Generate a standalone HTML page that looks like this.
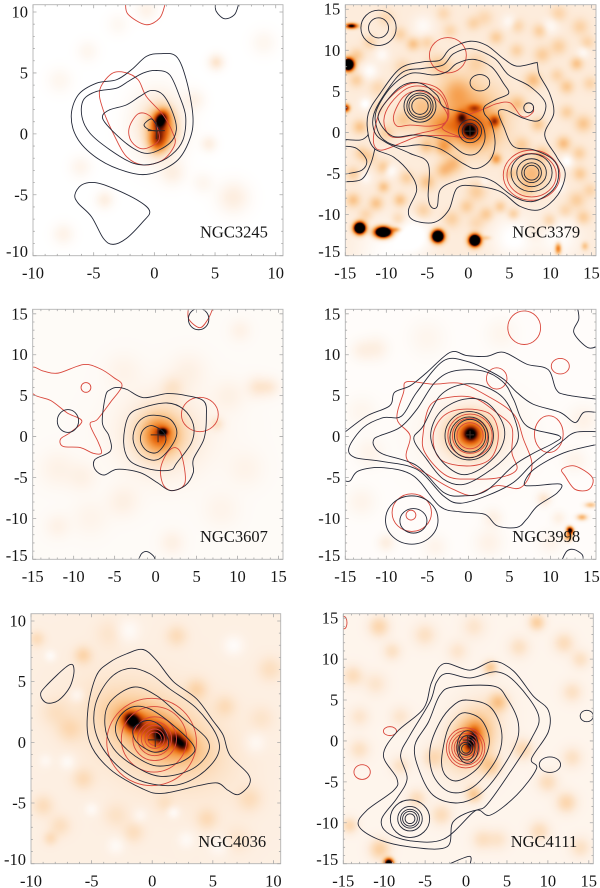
<!DOCTYPE html>
<html lang="en">
<head>
<meta charset="utf-8">
<title>NGC contour maps</title>
<style>
html,body{margin:0;padding:0;background:#fff;}
#figure{position:relative;width:600px;height:888px;overflow:hidden;background:#fff;}
#figure canvas{position:absolute;display:block;}
#figure svg{position:absolute;left:0;top:0;filter:blur(0.25px);}
text{font-family:"Liberation Serif",serif;fill:#161616;}
</style>
</head>
<body>
<div id="figure">
<svg id="overlay" width="600" height="888" viewBox="0 0 600 888"></svg>
</div>
<script>
/* ---------- tick labels ---------- */
const ticks10 = [-10,-5,0,5,10];
const ticks15 = [-15,-10,-5,0,5,10,15];

/* ---------- NGC3245 ---------- */
const n3245Heat = [[0.55,1.25,0.38,0.5,-30,0.62],[0.65,0.5,0.7,1,0,0.46],[0.25,-0.6,0.5,0.65,0,0.42],[0.3,0.7,1.4,1.8,0,0.2]];
const n3245Noise = [[5.1,5.9,0.45,0.14],[6.5,-5.2,0.9,0.1],[4.5,-0.8,0.45,0.09],[-4.1,-5.4,0.5,0.09],[-7.5,-8.2,0.6,0.07],[-6.1,-2.7,0.6,0.06],[-0.65,10.2,0.6,0.07],[-7.8,4.4,0.7,0.05],[1.5,-3.2,0.7,0.08],[-5.5,6.8,0.6,0.05],[-3,9,0.6,0.04],[3.3,2.8,0.6,0.07],[9,7.5,0.7,0.05],[4,-4,0.6,0.05]];
const n3245Black = [
 [[0.44,6.58],[1.8,6.36],[2.63,4.44],[3.18,1.42],[2.9,-0.49],[1.8,-2.27],[-0.38,-3.29],[-2.3,-3.1],[-4.5,-2.14],[-6.27,-0.49],[-6.85,1.42],[-6.27,3.2],[-4.77,4.16],[-3.12,4.44],[-1.89,5.26],[-0.66,6.36]],
 [[0.16,5.2],[1.26,4.85],[2.08,3.07],[2.58,1.42],[2.36,-0.49],[1.4,-1.73],[-0.11,-2.47],[-1.75,-2.41],[-3.67,-1.3],[-5.3,0.05],[-5.97,1.42],[-5.84,2.79],[-4.77,3.48],[-3.12,3.75],[-2.16,4.3],[-0.93,4.99]],
 [[-0.25,3.56],[0.71,3.2],[1.53,1.7],[1.81,0.33],[1.26,-0.77],[-0.38,-1.59],[-1.75,-1.18],[-3.4,0.19],[-4.27,1.29],[-3.8,1.92],[-2.3,2.38],[-1.2,3.07]],
 [[-0.85,0.74],[-0.25,1.23],[0.16,0.74],[0.44,0.27],[-0.38,0.33]],
 [[-6.55,-5],[-6,-4.2],[-4.9,-4],[-3.4,-4.47],[-1.2,-5.56],[-0.38,-6.38],[-0.93,-7.2],[-2.3,-8.58],[-3.4,-9.07],[-4.2,-8.58],[-5.18,-6.8],[-6.27,-5.7]]
];
const n3245BlackOpen = [[[5.04,10.7],[5.1,10.05],[5.78,9.45],[6.6,9.78],[6.96,10.7]]];
const n3245Red = [
 [[-3.53,4.93],[-2.44,5.04],[-1.34,4.44],[-0.66,3.07],[0.71,1.56],[1.53,0.05],[1.67,-0.9],[0.71,-2.14],[-0.93,-2.55],[-2.3,-1.86],[-3.26,-0.22],[-4.22,1.97],[-4.5,3.6]],
 [[-2.08,0.47],[-1.34,1.64],[-0.38,1.48],[0.3,0.33],[0.3,-0.63],[-0.93,-1.23],[-1.89,-0.63]]
];
const n3245RedOpen = [[[-2.38,10.7],[-2.16,9.8],[-0.71,8.96],[0.44,9.5],[0.9,10.7]]];

/* ---------- NGC3379 ---------- */
const n3379Heat = [[0.2,0.2,0.5,0.5,0,0.55],[0.2,0.2,1.4,1.4,0,0.32],[-0.8,1.9,0.45,0.5,0,0.38],[0.8,3,0.6,0.35,0,0.34],[3.25,1.4,0.45,0.5,0,0.48],[-5.9,3.2,1.2,1.2,0,0.14],[-0.5,3,2.8,2.4,0,0.24],[-1.4,5.15,1.1,1.2,0,0.14],[2,0.5,1.8,2,0,0.18],[-3,0.8,1.8,1.1,0,0.27],[7.7,-5,1.3,1.3,0,0.22],
 [-13.2,-11.6,0.45,0.45,0,2.2],[-10.35,-12.1,0.65,0.42,0,2.2],[-3.7,-12.6,0.47,0.47,0,2.2],[0.8,-13.1,0.45,0.45,0,2.2],[-14.6,8.3,0.45,0.47,0,2],[-14.2,13,0.5,0.22,0,0.95],[-14.9,3,0.32,0.32,0,0.8],[10.95,-14.1,0.27,0.47,0,0.5],[-8.8,-11.8,0.4,0.22,0,0.3],[2.2,-12.8,0.4,0.2,0,0.15],[14.2,-13.8,0.3,0.35,0,0.2]];
const n3379Noise = [[-6.7,10.8,0.55,0.18],[-13.6,9.4,0.6,0.15],[-8.3,12,0.6,0.12],[3.4,11.6,0.6,0.14],[8.7,12.4,0.6,0.14],[13.2,8.4,0.55,0.18],[12,5.6,0.6,0.16],[14,1.1,0.7,0.17],[11.6,-1.3,0.6,0.2],[13.6,-5,0.6,0.15],[13.2,-8.2,0.7,0.14],[7.9,6.4,0.7,0.2],[-11.2,-8.6,0.6,0.18],[-14,-8.2,0.6,0.18],[-8.3,-8.2,0.55,0.18],[-10.3,-6.6,0.5,0.18],[-0.2,-9,0.6,0.14],[2.2,-9.9,0.6,0.15],[3.9,-9,0.5,0.15],[5.5,-9.9,0.5,0.15],[9.9,-10.7,0.6,0.14],[14,-10.3,0.6,0.15],[-3,-4.6,0.7,0.18],[-1.8,-3.8,0.8,0.2],[3.4,-3.2,0.45,0.3],[5.1,-5,0.5,0.14],[-10.3,-4.2,0.6,0.16],[-13.2,0.7,0.6,0.18],[-13.6,6.4,0.6,0.13],[-5.1,-1.7,0.6,0.16],[-3,-1.7,0.7,0.27],[5.9,10,0.6,0.12],[-2.2,12.4,0.6,0.1],[0.6,13.3,0.6,0.11],[13.6,12.9,0.7,0.12],[-12,-3,0.6,0.11],[-5,-6,0.7,0.18],[1,-7.2,0.8,0.14],[6.5,-1.5,0.7,0.14],[9,9.5,0.7,0.14],[1,8.5,0.9,0.11],[-11,5.5,0.7,0.09],[-4,8.5,0.8,0.09],
 [-12,11,0.6,0.11],[-10,14,0.7,0.09],[-5,11,0.6,0.11],[-3,14.5,0.6,0.09],[2,14,0.7,0.09],[6,13,0.6,0.11],[11,14.5,0.7,0.11],[11,10.5,0.7,0.13],[14.5,11,0.6,0.11],[14.8,6,0.6,0.11],[12,2.5,0.6,0.13],[10.8,7,0.6,0.11],[13.5,-2.5,0.6,0.13],[14.8,-7,0.6,0.11],[11.8,-9.5,0.6,0.11],[8,-12,0.8,0.05],[-13,-2.5,0.6,0.13],[-14,-5,0.6,0.13],[-7.5,-5.5,0.6,0.13],[-5.5,-9.5,0.7,0.13],[-8.5,-10.5,0.6,0.11],[-12.5,-10,0.6,0.11],[-2,-10.5,0.7,0.13],[1,-11,0.7,0.09],[7,-7,0.7,0.11],[-8,1.5,0.8,0.14],[-10,0,0.7,0.13],[-11,3,0.6,0.09],[-8,8,0.7,0.1],[-3,8,0.8,0.11],[8.5,1,0.6,0.16],[6,3.5,0.7,0.18],[9,-2.5,0.6,0.16]];
const n3379Holes = [[-9.5,-4.6,0.55,-0.12],[12,-3.5,0.5,-0.12],[-12,7.5,0.7,-0.1],[-12.5,3.5,0.5,-0.12],[10,13,0.7,-0.08],[-5.5,13,0.9,-0.08],[5,13.5,0.6,-0.08],[11,-6.5,0.5,-0.1],[-12.5,-5.5,0.5,-0.08],[-6.5,-12.5,1.5,-0.12],[5.5,-12.8,1.8,-0.12],[11,-12.7,1.8,-0.1],[-10,-14.5,2.5,-0.1],[2,-6,0.4,-0.06],[14,9.8,0.5,-0.08],[-10.5,9.5,0.6,-0.08]];
const n3379Black = [
 [[0.2,11.1],[2.23,10.6],[4.26,9],[5.9,8.07],[8.13,8.47],[8.4,8.39],[8.66,7],[9.9,4.75],[10.4,2.3],[9.3,-0.3],[10.76,-2.96],[11.8,-5],[10.9,-7.6],[8.7,-9.4],[6.3,-9],[3.9,-7.2],[0.6,-6.5],[-1.4,-6.8],[-2.4,-9.45],[-4.2,-10.95],[-6.7,-10.67],[-7.3,-9.45],[-6.3,-7],[-7.1,-5],[-9.1,-3],[-11.4,-2],[-12.2,-0.3],[-12.2,2.3],[-10.75,4.75],[-8.3,7.8],[-5.5,8.6],[-3.45,8.8],[-2.2,10.2]],
 [[0.4,10.2],[3.2,9],[4.9,7],[7.5,5.6],[9.4,3.55],[8.7,1.5],[6.8,1.7],[4.6,2.7],[3.65,2.5],[4.3,0.7],[5.5,-1.7],[7.9,-2.1],[10.3,-3.3],[11,-5],[10.3,-7],[7.9,-8.4],[5.5,-7.8],[3.1,-6],[1,-5.4],[-1.8,-6],[-3.45,-7],[-3.8,-9],[-4.5,-9.1],[-4.9,-7.8],[-4.9,-3.8],[-7.1,-2.55],[-9.9,-1.3],[-11.4,0],[-11.5,2.3],[-9.75,5.35],[-7.9,7.4],[-5.5,7.8],[-3.1,8.2],[-1.8,9.6]],
 [[0.6,8.9],[2.8,8],[4.26,6],[4.9,4.75],[3.45,4.05],[2,3.2],[1.95,2.3],[2.8,1.1],[3.25,-1.35],[2.65,-3.35],[1,-4.4],[-0.6,-3.8],[-3.45,-2],[-5.9,-1.5],[-8.3,-1.7],[-10.3,-0.9],[-11.2,0.7],[-11.2,2.7],[-9.4,5.55],[-7,7.2],[-4.25,7],[-2.6,7.4],[-1.4,8.4]],
 [[-8.3,5.55],[-5.9,6],[-3.85,4.55],[-3,3.1],[-0.2,2.3],[1.6,1.1],[2,-0.9],[1,-2.55],[-0.6,-2.55],[-3,-0.9],[-6.3,-0.3],[-9.1,-0.5],[-10.75,1.1],[-10.75,2.7]]
];
const n3379BlackOpen = [
 [[-15.1,-0.85],[-13.2,-0.93],[-12.4,-0.5],[-12.2,-0.2]],
 [[-15.1,-6],[-13,-5.7],[-11.9,-3.8],[-11.4,-2]],
 [[-15.1,-1.66],[-13.6,-1.95],[-12.4,-3.4],[-13,-4.6],[-15.1,-5.07]]
];
const n3379BlackRings = [[-10.95,12.73,2.15,2.15],[-10.95,12.73,1.22,1.22],[0.2,0.16,1.4,1.4],[0.2,0.16,0.95,0.95],[-5.9,3.2,1.95,1.95],[-5.9,3.2,1.6,1.6],[-5.9,3.2,1.35,1.35],[-5.9,3.2,1,1],[7.7,-4.9,2.5,2.3],[7.7,-4.9,1.8,1.7],[7.7,-4.9,1.2,1.2],[7.7,-4.9,0.9,0.9],[1.4,6.05,1.2,1],[7.35,3,0.6,0.6]];
const n3379Red = [
 [[-11.4,0.5],[-10.5,3.1],[-8.3,5.35],[-6.3,6.05],[-3.85,5.45],[-2.7,3.95],[-2.4,1.9],[-3.2,0.5],[-1.4,-0.4],[-0.2,-0.7],[-2.7,-0.4],[-5.9,-0.45],[-7.9,-1.15],[-10.5,-2.15],[-11.5,-1.5]],
 [[-9.1,2.1],[-7.9,4.35],[-6.1,5.05],[-4.25,4.35],[-2.7,2.5],[-2.7,1.3],[-4.65,0.77],[-7.1,0.9],[-8.7,0.77]],
 [[-10.3,1.5],[-9.5,3.5],[-7.5,5.35],[-5.5,5.6],[-3.5,4.7],[-2.5,2.5],[-3.2,0.7],[-5.9,-0.1],[-8.3,-0.6],[-9.7,-0.3]]
];
const n3379RedOpen = [[[-0.2,2.1],[2,2.9],[3.45,3.5],[5.1,3.6],[6.3,2.1],[7.1,1.9],[7.9,2.5],[7.9,3.1]]];
const n3379RedRings = [[-2.5,9.4,2.25,2.15],[7.7,-5.2,3.45,3.05],[7.7,-5.2,3,2.65]];

/* ---------- NGC3607 ---------- */
const n3607Heat = [[0.9,0.55,0.42,0.32,0,0.55],[0.5,0.1,1.3,1.35,0,0.42],[0.5,0.2,2.6,2.7,0,0.18],[1.5,0.5,4.5,3.8,0,0.07]];
const n3607Noise = [[2,6,1,0.08],[12.4,6,0.9,0.1],[10.3,12.9,0.9,0.05],[7.5,1.5,0.6,0.1],[14,6,0.8,0.08],[-8,-10,1.5,0.04],[-12,-11,1,0.05],[2,-13,1,0.06],[-4,-8,1.3,0.06],[-4,8,1.5,0.04],[4,8,1.5,0.05],[9,5,1.3,0.05],[-12,-4,1.5,0.05],[8,-9,1.5,0.04],[11,-4,1.5,0.04],[-9,-5,1.2,0.05]];
const n3607Black = [
 [[-4.7,6],[-3.5,5.75],[-1.5,4.75],[1.4,5.25],[3.8,5],[5.9,4.3],[6.2,2.5],[5.9,-0.3],[4.6,-2.8],[4.6,-4.4],[3.6,-6],[1.8,-6.6],[0.16,-5.6],[-1.9,-4.4],[-4.7,-4],[-6.3,-4.7],[-7.4,-4],[-7.4,-2.8],[-5.5,-1.75],[-5.7,0.1],[-6.5,1.7],[-6.1,5],[-5.5,5.75]],
 [[1.4,4.1],[3.4,3.35],[4.6,1.5],[4.4,-0.7],[2.6,-3.2],[1.8,-4.1],[-0.65,-4],[-3.1,-3],[-3.9,-0.7],[-3.3,2.5],[-1.5,3.55]],
 [[0,2.6],[1.8,2.1],[2.6,0.5],[1.8,-1.35],[0.16,-2.85],[-1.7,-2.35],[-2.7,-0.7],[-2.5,1.1],[-1.5,2.3]],
 [[-0.25,1.3],[1,0.5],[1.2,-0.7],[0.16,-1.95],[-1.05,-1.75],[-1.8,-0.7],[-1.7,0.5],[-1.05,1.2]]
];
const n3607BlackOpen = [[[-2.1,-15.1],[-1.7,-14.3],[-1.05,-14.05],[-0.25,-14.6],[-0.05,-15.1]]];
const n3607BlackRings = [[-10.7,1.9,1.3,1.4],[5.25,14.35,1.25,1.3]];
const n3607Red = [
 [[-15.1,8.35],[-13.7,8],[-11.9,7.75],[-8.8,8.8],[-6.8,8.3],[-5.1,7.2],[-4.1,6.2],[-5.5,4.2],[-7.1,2.1],[-8,1.5],[-7,-0.7],[-6.6,-2],[-7.6,-2.05],[-9.2,-1.35],[-11.3,-1.2],[-11.6,-0.3],[-10.4,0.5],[-9,1.9],[-10.8,2.9],[-12.8,4.4],[-15.1,5.4]],
 [[0.6,-4],[1.4,-2],[2.4,-1.35],[3.2,-2.35],[3.6,-5.6],[2.2,-6.6],[1,-6]]
];
const n3607RedOpen = [[[4,15.7],[4.05,14.35],[5.4,13.3],[6.4,14.35],[7,15.7]]];
const n3607RedRings = [[-8.5,6,0.6,0.6],[5.4,2.7,2.25,2.1]];

/* ---------- NGC3998 ---------- */
const n3998Heat = [[0.3,0.3,0.65,0.65,0,0.48],[0.3,0.3,1.4,1.35,0,0.4],[0.3,0.2,2.3,2.1,0,0.17],[0.3,0,4.5,3.5,0,0.08],[12.4,-11.5,0.28,0.32,30,1.1],[12.2,-12.3,0.35,0.35,0,0.45],[13.85,-9.9,0.45,0.28,0,0.34],[14.9,-8.4,0.5,0.25,0,0.28]];
const n3998Noise = [[-11.2,10.7,1,0.07],[-13,10.5,0.9,0.06],[-10,-13,0.7,0.08],[9.2,-7.65,0.6,0.12],[11,-10,0.6,0.07],[-13,3,1.3,0.04],[-5,12,1.5,0.04],[10,-13,1,0.05],[14,2,1.2,0.06],[13,-3,1,0.05],[-13,-8,1.2,0.05],[2.5,-13,1.2,0.06],[-4,-13.5,1,0.05],[4,12.5,1.3,0.04],[-12,-2,1.2,0.05],[3,-10,0.8,0.07]];
const n3998BlackOpenLines = [
 [[-15.1,0.5],[-12.4,2.5],[-9.6,3.75],[-9,5.4],[-7.1,6.2],[-5.1,7.8],[-2.2,10.3],[-0.2,9.9],[2.2,9.8],[4.3,10.3],[7.1,8.85],[9.7,8.2],[10.7,5.75],[11.9,5.1],[15.7,4.55]],
 [[-15.1,-5.4],[-14.4,-5.4],[-13.4,-4.2],[-10.4,-3.8],[-6.7,-4.8],[-3.5,-8.5],[-1,-9.2],[2,-9.5],[3.5,-10.9],[5.9,-11.1],[7.1,-10.1],[8.4,-8.5],[10.8,-6.9],[11.2,-5.8],[8,-6],[6.8,-5.8],[8,-4],[11.6,-2],[15.7,-0.95]],
 [[15.7,2.95],[14.05,2.95],[13,1.7],[11.2,2.95],[7.9,3.95],[5.9,5.4],[4.3,7],[2.2,8.2],[-0.2,9.2],[-3.05,9.25],[-6.3,5.4],[-8.15,2.5],[-10.4,2.3],[-12.8,1.1],[-14.55,-1.35],[-13.85,-2.55],[-10.8,-3],[-6.3,-4],[-3.05,-7.25],[-1,-8.15],[2.2,-7.25],[5.5,-5.6],[7.95,-3.2],[11.2,-0.75],[13,0.5],[15.7,0.6]],
 [[13.3,15.7],[13.45,14.35],[12.85,12.7],[14.5,10.9],[15.7,11]],
 [[11.4,-15.1],[12,-14],[12.85,-13.8],[13.85,-14.4],[14,-15.1]]
];
const n3998BlackClosed = [
 [[-11.5,-0.3],[-10.8,0.1],[-8.35,1.1],[-6.3,3.3],[-4.1,6.6],[-1.8,8],[1.8,8],[4.3,6.6],[5.5,4.55],[7.1,1.3],[11.05,0.1],[10.45,-0.75],[8,-2],[5.5,-3.55],[2.2,-6.6],[-0.6,-7.25],[-3.05,-6.8],[-6.3,-3.55],[-10.4,-2.15],[-11.5,-1.15]],
 [[-6.65,-0.3],[-5.5,1.3],[-3.45,5],[-0.6,6.4],[2.25,6],[4.7,4.15],[6.1,0.1],[4.7,-2.35],[2.25,-4.4],[-0.6,-5.85],[-3.05,-5.2],[-5.1,-2.75]],
 [[-4.6,0.1],[-3.45,3],[-0.6,4.55],[2.25,4.15],[4.3,1.3],[3.9,-1.55],[1.4,-4],[-1,-4.6],[-3.45,-2.75]]
];
const n3998BlackRings = [[0.1,0.1,2.95,2.95],[0.1,-0.1,2.35,2.5],[0.2,0.1,1.9,2]];
const n3998BlackBlobs = [[-6.9,-10.2,3.2,2.95],[-6.7,-10.3,1.65,1.5]];
const n3998Red = [
 [[-7.5,6.7],[-4.3,6.4],[-1,6.5],[2.25,5],[5.5,2.75],[6.7,-0.3],[7.75,-3.6],[6.35,-6.25],[3.45,-6],[0.6,-7.2],[-1.85,-6.45],[-4.7,-4.8],[-7.5,-2.75],[-7.1,0.1],[-8.7,2.15],[-7.9,5.4]],
 [[-4.7,3.75],[-2.65,4.75],[0.6,4.75],[3.45,2.9],[5.3,1.1],[5.3,-1.95],[5.9,-4],[3.9,-5],[0.6,-5.2],[-2.65,-4.8],[-5.3,-1.95],[-5.5,0.5]],
 [[-3.05,2.5],[-0.6,3.35],[2.65,2.75],[3.65,0.1],[2.65,-2.75],[-0.2,-3.6],[-3.45,-2.75],[-4.3,0.1]],
 [[11.4,-4],[13,-3.6],[15.1,-5],[14.7,-6.45],[13,-6.45],[11.8,-4.85]]
];
const n3998RedRings = [[6.8,13.3,2,2.05],[11.2,8.6,1.1,0.95],[3.45,7.1,1.25,1.3],[9.8,0.3,1.75,2.25],[-6.9,-9.3,2.4,2.3],[-7,-9.6,0.6,0.6],[0.2,0.1,2.7,2.65],[0.2,0.1,2.15,2.15],[0.2,0.1,1.6,1.6]];

/* ---------- NGC4036 ---------- */
const n4036Heat = [[-1.55,1.55,0.55,0.5,0,0.42],[-1.85,2.1,0.5,0.42,0,0.38],[0.65,0.6,0.42,0.5,0,0.36],[2,0.35,0.38,0.45,0,0.36],[2.6,-0.2,0.42,0.45,0,0.45],[0.3,0.8,2.2,0.95,-28,0.38],[0.3,0.7,3.2,1.9,-28,0.16],[0.2,0.6,5,3.2,-28,0.07]];
const n4036Noise = [[-5.7,7.2,0.5,0.12],[-9.5,8.55,0.45,0.09],[3.65,4.4,0.6,0.11],[2,8.8,0.6,0.09],[9.7,6.05,0.7,0.08],[-6.8,1.1,0.7,0.09],[-9,-5.2,0.6,0.09],[-5.7,-3,0.6,0.09],[4.5,-6.3,0.6,0.09],[8,-4.65,0.7,0.08],[-7.6,-6.85,0.6,0.08],[-1.55,-7.4,0.6,0.08],[-8.4,-7.9,0.4,0.09],[-3,-6,0.7,0.06],[6,3,0.6,0.08],[9,2,0.7,0.05],[-8,2.5,0.8,0.06],[1,-5,0.5,0.05],[7,-8,0.8,0.05],[-3.5,9,0.8,0.05]];
const n4036Holes = [[-7,-1.6,0.45,-0.07],[1.75,-5.75,0.35,-0.08],[-8.4,7.15,0.35,-0.07],[6.7,8,0.6,-0.07],[-6.2,3.9,0.4,-0.07],[-2,9.2,0.7,-0.07],[5.5,-8.5,0.6,-0.06],[-3,-8.5,0.5,-0.06],[-5,-5.5,0.4,-0.06],[8.5,0,0.6,-0.06],[2.8,-8,0.5,-0.06],[-8.8,-1.5,0.4,-0.05],[-1,-6,0.4,-0.05]];
const n4036Black = [
 [[-0.75,7.65],[0.35,6.75],[1.75,5],[3.65,3.6],[5,1.8],[5.85,0.6],[6.4,-1.05],[7.9,-2.6],[8,-3.5],[7.1,-4.3],[6.25,-3.95],[5.4,-3.35],[3.9,-3.55],[0.9,-4.2],[-0.75,-3.85],[-3.5,-2.2],[-5.15,0],[-5.3,2.75],[-4.6,5.5],[-3.5,6.6],[-2.1,7.3]],
 [[-1.85,6.1],[-0.2,5.65],[1.45,4.4],[3.65,2.8],[5.3,0.6],[5.4,-1.05],[3.9,-2.7],[1.75,-3.55],[-1,-3.15],[-3.2,-1.6],[-4.6,0.6],[-4.7,3.05],[-3.5,5.25]],
 [[-1.55,4.55],[0.35,3.85],[2.3,2.2],[4.5,0.3],[4.5,-1.05],[3.1,-2.3],[0.65,-2.8],[-1.55,-1.9],[-3.2,-0.5],[-3.9,1.4],[-3.5,3.3]],
 [[-1.7,2.9],[-0.2,2.75],[1.75,1.4],[3.4,-0.25],[3.25,-1.05],[2,-1.75],[0.1,-1.9],[-1.85,-0.8],[-2.95,0.6],[-2.8,1.95]],
 [[-0.45,1.8],[0.65,1.4],[1.3,0.3],[1.2,-0.5],[0.1,-0.8],[-1.3,0.05],[-1.55,1.15]],
 [[-6.9,6.35],[-6.45,5.95],[-6.8,4.55],[-7.75,3.45],[-8.7,3.25],[-9.2,3.85],[-8.85,4.55]]
];
const n4036RedRings = [[-0.05,0.03,3.7,3.6],[0.15,0.25,2.7,2.7],[0.2,0.3,1.8,1.8],[0.2,0.3,1.4,1.4],[0.2,0.3,1.1,1.1],[0.2,0.3,0.8,0.8],[0.2,0.3,0.55,0.55]];

/* ---------- NGC4111 ---------- */
const n4111Heat = [[0.7,0,0.5,1,-15,0.55],[0.7,0.3,1.35,1.9,-25,0.36],[0.8,0.5,2.4,3.6,-25,0.13],[-9.4,-14.9,0.38,0.38,0,1.3]];
const n4111Noise = [[-10.6,14,0.9,0.15],[8.7,14.5,0.7,0.18],[3,9,0.6,0.2],[4,4.8,0.8,0.2],[-13.8,8,0.9,0.12],[-14.2,-10.3,0.7,0.14],[-10.5,-13.2,0.9,0.18],[12.3,-7.5,0.9,0.15],[-11,7,1,0.08],[-5,13,1,0.1],[6.5,11.5,0.9,0.1],[12,12,0.9,0.12],[13,6,0.9,0.1],[7,-1,0.9,0.14],[10,-5,0.9,0.12],[13,-2,0.9,0.1],[-4,-2,0.9,0.12],[-6,-7,0.8,0.12],[-3,-9,0.9,0.12],[4,-12,0.9,0.08],[9,-11,0.9,0.12],[1,-6.5,0.7,0.2],[-13,-1,0.9,0.1],[-8,3,0.9,0.08],[-13,3,0.9,0.08],[-1,11,0.9,0.08],[2,-12,0.9,0.1],[14,-13,0.9,0.1],[3,-3,0.9,0.18],[-9,11,0.8,0.1],[1,14,1,0.08],[14,10,0.8,0.1],[-8,-3,0.8,0.1]];
const n4111Black = [
 [[-2.7,9.45],[0.5,8.65],[3.35,9.75],[5.8,8.55],[8.2,5.5],[10.05,3.75],[10.05,1.1],[8,-2.15],[8.6,-3.4],[6.2,-6.6],[3,-9.05],[1.3,-8.45],[-1.55,-9.85],[-2.35,-12.95],[-6.85,-12.95],[-10.9,-11.95],[-13.15,-10.3],[-12.15,-8.5],[-8.85,-6.05],[-8.45,-4.6],[-10.1,-1.75],[-8.45,1.1],[-5.2,3.95],[-4.2,7.2]],
 [[-2.35,8.25],[0.5,7.7],[3.75,8.45],[6.2,7],[8.85,3.15],[8,0.3],[5.4,-3.8],[2.5,-7.85],[0.9,-8.7],[-2.75,-12],[-6.85,-12.2],[-9.7,-11.15],[-10.3,-9.5],[-8.45,-7],[-7.2,-4.6],[-8,-1.75],[-6.85,0.7],[-4.4,4.8],[-3.6,7.2]],
 [[-1.55,6.6],[3.35,6.7],[5,5.2],[6.4,2.1],[5.8,-0.95],[2.5,-5.8],[-0.75,-7.55],[-4,-6.65],[-5.8,-3.4],[-6.25,-0.5],[-4.6,2.3],[-3.2,5.6]],
 [[0.1,5],[2.95,4.15],[4.35,1.1],[3.75,-2.15],[0.9,-5.6],[-1.95,-6.25],[-4,-4.2],[-4.4,-0.95],[-3.2,2.3],[-1.55,4.35]],
 [[-0.1,3.45],[1.9,2.55],[2.85,-0.1],[1.7,-3],[-0.75,-4.8],[-2.35,-4.4],[-3,-2.55],[-2.35,1.1],[-1.35,2.75]]
];
const n4111BlackOpen = [[[-2.2,-15.1],[0.4,-14.1],[0.5,-15.1]]];
const n4111BlackRings = [[0.2,-0.75,1.3,2],[0.1,-0.85,1,1.5],[0,-0.95,0.8,0.8],[0,-0.95,0.55,0.55],[-6.85,-9.5,2.4,2.3],[-6.85,-9.5,1.5,1.5],[-6.85,-9.5,1.15,1.15],[-6.85,-9.5,0.9,0.9],[-6.85,-9.5,0.6,0.6],[14.75,3.05,0.8,0.7],[10.25,-2.9,1.3,0.95]];
const n4111RedRings = [[-0.05,-0.85,2.35,2.45],[-0.05,-0.85,2.05,2.1],[-0.05,-0.85,1.7,1.75],[-0.05,-0.85,1.4,1.45],[-0.05,-0.85,1.15,1.15],[-0.05,-0.85,0.8,0.8],[-9.3,1.2,0.8,0.55],[-12.7,-3.8,1,0.9],[-14.9,14.45,0.35,0.75]];

/* ---------- panel assembly ---------- */
const panels = [
 {name:'NGC3245',slug:'ngc3245',box:[33,4.7,283,255.7],lim:[-10,10.6],ticks:ticks10,base:0,label:[200,237.5],cross:[0.16,0.27],crossLen:0.7,heat:n3245Heat,noise:n3245Noise,holes:[],black:n3245Black,blackOpen:n3245BlackOpen,blackRings:[],red:n3245Red,redOpen:n3245RedOpen,redRings:[]},
 {name:'NGC3379',slug:'ngc3379',box:[345.3,4.7,596,255.7],lim:[-15,15.55],ticks:ticks15,base:0.11,label:[512.3,237.5],cross:[0.2,0.16],crossLen:0.7,heat:n3379Heat,noise:n3379Noise,holes:n3379Holes,black:n3379Black,blackOpen:n3379BlackOpen,blackRings:n3379BlackRings,red:n3379Red,redOpen:n3379RedOpen,redRings:n3379RedRings},
 {name:'NGC3607',slug:'ngc3607',box:[32.7,309.3,283,559.3],lim:[-15,15.55],ticks:ticks15,base:0.025,label:[200,542],cross:[0.3,0.2],crossLen:0.9,heat:n3607Heat,noise:n3607Noise,holes:[],black:n3607Black,blackOpen:n3607BlackOpen,blackRings:n3607BlackRings,red:n3607Red,redOpen:n3607RedOpen,redRings:n3607RedRings},
 {name:'NGC3998',slug:'ngc3998',box:[345.3,309.3,596,559.3],lim:[-15,15.55],ticks:ticks15,base:0.015,label:[512.3,542],cross:[0.2,0.2],crossLen:0.5,heat:n3998Heat,noise:n3998Noise,holes:[],black:n3998BlackClosed,blackOpen:n3998BlackOpenLines,blackRings:n3998BlackRings.concat(n3998BlackBlobs),red:n3998Red,redOpen:[],redRings:n3998RedRings},
 {name:'NGC4036',slug:'ngc4036',box:[31,613.7,280.7,863.7],lim:[-10,10.6],ticks:ticks10,base:0.09,label:[198.3,847],cross:[0.25,0.2],crossLen:0.6,heat:n4036Heat,noise:n4036Noise,holes:n4036Holes,black:n4036Black,blackOpen:[],blackRings:[],red:[],redOpen:[],redRings:n4036RedRings},
 {name:'NGC4111',slug:'ngc4111',box:[343.3,613.7,593.3,863.7],lim:[-15,15.55],ticks:ticks15,base:0.06,label:[510.7,847],cross:[0.2,0.1],crossLen:0.6,heat:n4111Heat,noise:n4111Noise,holes:[],black:n4111Black,blackOpen:n4111BlackOpen,blackRings:n4111BlackRings,red:[],redOpen:[],redRings:n4111RedRings}
];

const colorStops = [[0,255,255,255],[0.1,253,238,224],[0.25,251,207,159],[0.45,245,154,69],[0.6,232,106,16],[0.75,184,60,5],[0.88,90,15,0],[1,0,0,0]];
const BLACK_LINE = '#232838';
const RED_LINE = '#d9473c';
const svgNS = 'http://www.w3.org/2000/svg';
const overlay = document.getElementById('overlay');
const figure = document.getElementById('figure');

function colorOf(v){
  v = Math.max(0,Math.min(1,v));
  for(let i=1;i<colorStops.length;i++){
    const a=colorStops[i-1], b=colorStops[i];
    if(v<=b[0]){
      const t=(v-a[0])/(b[0]-a[0]);
      return [a[1]+(b[1]-a[1])*t,a[2]+(b[2]-a[2])*t,a[3]+(b[3]-a[3])*t];
    }
  }
  return [0,0,0];
}

function makeAxes(p){
  const [x0,y0,x1,y1]=p.box, [lo,hi]=p.lim;
  return {
    x:v=>x0+(v-lo)/(hi-lo)*(x1-x0),
    y:v=>y1-(v-lo)/(hi-lo)*(y1-y0),
    xInv:px=>lo+(px-x0)/(x1-x0)*(hi-lo),
    yInv:py=>lo+(y1-py)/(y1-y0)*(hi-lo)
  };
}

function drawHeat(p,ax){
  const [x0,y0,x1,y1]=p.box;
  const w=Math.round(x1-x0), h=Math.round(y1-y0);
  const cv=document.createElement('canvas');
  
  
  cv.width=w; cv.height=h;
  cv.style.left=x0+'px'; cv.style.top=y0+'px';
  cv.style.width=(x1-x0)+'px'; cv.style.height=(y1-y0)+'px';
  figure.insertBefore(cv,overlay);
  const blobs=[];
  p.heat.forEach(b=>{const r=b[4]*Math.PI/180;blobs.push([b[0],b[1],b[2],b[3],Math.cos(r),Math.sin(r),b[5]]);});
  p.noise.concat(p.holes).forEach(b=>blobs.push([b[0],b[1],b[2],b[2],1,0,b[3]]));
  const ctx=cv.getContext('2d');
  const img=ctx.createImageData(w,h);
  for(let j=0;j<h;j++){
    const dy=ax.yInv(y0+(j+0.5)*(y1-y0)/h);
    for(let i=0;i<w;i++){
      const dx=ax.xInv(x0+(i+0.5)*(x1-x0)/w);
      let v=p.base;
      for(let k=0;k<blobs.length;k++){
        const b=blobs[k];
        const ux=dx-b[0], uy=dy-b[1];
        const a=(ux*b[4]+uy*b[5])/b[2], c=(-ux*b[5]+uy*b[4])/b[3];
        const q=a*a+c*c;
        if(q<12) v+=b[6]*Math.exp(-0.5*q);
      }
      const col=colorOf(v), o=(j*w+i)*4;
      img.data[o]=col[0]; img.data[o+1]=col[1]; img.data[o+2]=col[2]; img.data[o+3]=255;
    }
  }
  ctx.putImageData(img,0,0);
}

function smoothPath(pts,closed,ax){
  const P=pts.map(q=>[ax.x(q[0]),ax.y(q[1])]);
  const n=P.length;
  const at=i=>closed?P[(i+n)%n]:P[Math.max(0,Math.min(n-1,i))];
  let d='M'+P[0][0].toFixed(2)+' '+P[0][1].toFixed(2);
  const segs=closed?n:n-1;
  for(let i=0;i<segs;i++){
    const a=at(i-1),b=at(i),c=at(i+1),e=at(i+2);
    const c1=[b[0]+(c[0]-a[0])/6,b[1]+(c[1]-a[1])/6];
    const c2=[c[0]-(e[0]-b[0])/6,c[1]-(e[1]-b[1])/6];
    d+='C'+c1[0].toFixed(2)+' '+c1[1].toFixed(2)+' '+c2[0].toFixed(2)+' '+c2[1].toFixed(2)+' '+c[0].toFixed(2)+' '+c[1].toFixed(2);
  }
  return d+(closed?'Z':'');
}

function addContour(g,pts,closed,color,ax,name){
  const e=document.createElementNS(svgNS,'path');
  e.setAttribute('d',smoothPath(pts,closed,ax));
  e.setAttribute('fill','none');
  e.setAttribute('stroke',color);
  e.setAttribute('stroke-width','0.9');
  
  
  g.appendChild(e);
}

function addRing(g,r,color,ax,name){
  const e=document.createElementNS(svgNS,'ellipse');
  e.setAttribute('cx',ax.x(r[0]));
  e.setAttribute('cy',ax.y(r[1]));
  e.setAttribute('rx',Math.abs(ax.x(r[2])-ax.x(0)));
  e.setAttribute('ry',Math.abs(ax.y(r[3])-ax.y(0)));
  e.setAttribute('fill','none');
  e.setAttribute('stroke',color);
  e.setAttribute('stroke-width','0.9');
  
  
  g.appendChild(e);
}

function addText(g,str,x,y,anchor,name){
  const t=document.createElementNS(svgNS,'text');
  t.setAttribute('x',x);
  t.setAttribute('y',y);
  t.setAttribute('font-size','16.5');
  t.setAttribute('text-anchor',anchor);
  t.textContent=str;
  
  
  g.appendChild(t);
}

function drawPanel(p,idx){
  const ax=makeAxes(p);
  drawHeat(p,ax);
  const [x0,y0,x1,y1]=p.box;
  const g=document.createElementNS(svgNS,'g');
  
  
  overlay.appendChild(g);

  const clipId='clip'+idx;
  const cp=document.createElementNS(svgNS,'clipPath');
  cp.setAttribute('id',clipId);
  const cr=document.createElementNS(svgNS,'rect');
  cr.setAttribute('x',x0);cr.setAttribute('y',y0);
  cr.setAttribute('width',x1-x0);cr.setAttribute('height',y1-y0);
  cp.appendChild(cr);
  g.appendChild(cp);

  const plot=document.createElementNS(svgNS,'g');
  plot.setAttribute('clip-path','url(#'+clipId+')');
  
  
  g.appendChild(plot);

  p.red.forEach(c=>addContour(plot,c,true,RED_LINE,ax,p.slug+'-red-contour'));
  p.redOpen.forEach(c=>addContour(plot,c,false,RED_LINE,ax,p.slug+'-red-contour'));
  p.redRings.forEach(r=>addRing(plot,r,RED_LINE,ax,p.slug+'-red-contour'));
  p.black.forEach(c=>addContour(plot,c,true,BLACK_LINE,ax,p.slug+'-black-contour'));
  p.blackOpen.forEach(c=>addContour(plot,c,false,BLACK_LINE,ax,p.slug+'-black-contour'));
  p.blackRings.forEach(r=>addRing(plot,r,BLACK_LINE,ax,p.slug+'-black-contour'));

  const cx=ax.x(p.cross[0]), cy=ax.y(p.cross[1]);
  const hw=Math.abs(ax.x(p.crossLen)-ax.x(0));
  const cross=document.createElementNS(svgNS,'path');
  cross.setAttribute('d','M'+(cx-hw)+' '+cy+'H'+(cx+hw)+'M'+cx+' '+(cy-hw)+'V'+(cy+hw));
  cross.setAttribute('stroke','#3a2a26');
  cross.setAttribute('stroke-width','1');
  
  
  plot.appendChild(cross);

  const frame=document.createElementNS(svgNS,'rect');
  frame.setAttribute('x',x0);frame.setAttribute('y',y0);
  frame.setAttribute('width',x1-x0);frame.setAttribute('height',y1-y0);
  frame.setAttribute('fill','none');
  frame.setAttribute('stroke','#b4b4b4');
  frame.setAttribute('stroke-width','0.9');
  
  
  g.appendChild(frame);

  let d='';
  const first=p.ticks[0], last=p.ticks[p.ticks.length-1];
  for(let v=first;v<=last;v++){
    const major=p.ticks.indexOf(v)>=0, len=major?3.5:1.8;
    const tx=ax.x(v), ty=ax.y(v);
    d+='M'+tx+' '+y1+'v'+(-len)+'M'+tx+' '+y0+'v'+len;
    d+='M'+x0+' '+ty+'h'+len+'M'+x1+' '+ty+'h'+(-len);
  }
  const tk=document.createElementNS(svgNS,'path');
  tk.setAttribute('d',d);
  tk.setAttribute('stroke','#a8a8a8');
  tk.setAttribute('stroke-width','0.8');
  tk.setAttribute('fill','none');
  
  
  g.appendChild(tk);

  p.ticks.forEach((v,i)=>{
    addText(g,String(v),ax.x(v),y1+22.8,'middle',p.slug+'-x-tick-label');
    const shift=i===0?-4:0;
    addText(g,String(v),x0-5,ax.y(v)+5.5+shift,'end',p.slug+'-y-tick-label');
  });
  addText(g,p.name,p.label[0],p.label[1],'start',p.slug+'-galaxy-label');
}

panels.forEach(drawPanel);
</script>
</body>
</html>
